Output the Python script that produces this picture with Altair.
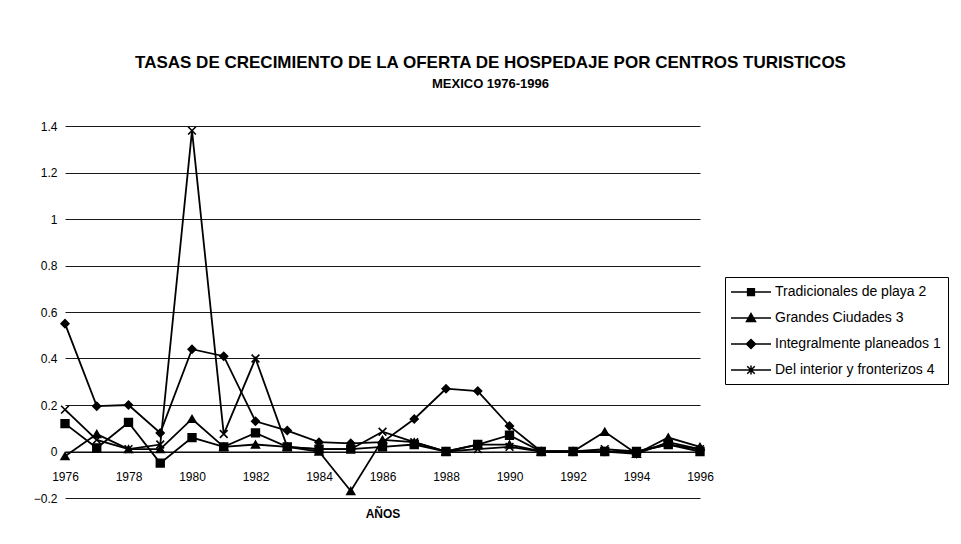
import altair as alt
import pandas as pd

years = [1976, 1977, 1978, 1979, 1980, 1981, 1982, 1983, 1984, 1985, 1986,
         1987, 1988, 1989, 1990, 1991, 1992, 1993, 1994, 1995, 1996]

series_names = [
    "Tradicionales de playa 2",
    "Grandes Ciudades 3",
    "Integralmente planeados 1",
    "Del interior y fronterizos 4",
]

tradicionales = [0.12, 0.015, 0.125, -0.05, 0.06, 0.02, 0.08, 0.02, 0.01, 0.01, 0.02,
                 0.03, 0.0, 0.03, 0.07, 0.0, 0.0, 0.0, 0.0, 0.03, 0.0]
grandes = [-0.02, 0.075, 0.01, 0.01, 0.14, 0.02, 0.03, 0.02, 0.0, -0.17, 0.05,
           0.04, 0.0, 0.03, 0.03, 0.0, 0.0, 0.085, -0.01, 0.06, 0.02]
integralmente = [0.55, 0.195, 0.2, 0.08, 0.44, 0.41, 0.13, 0.09, 0.04, 0.035, 0.04,
                 0.14, 0.27, 0.26, 0.11, 0.0, 0.0, 0.0, -0.01, 0.04, 0.01]
interior = [0.18, 0.05, 0.01, 0.03, 1.38, 0.075, 0.40, 0.02, 0.01, 0.01, 0.085,
            0.04, 0.0, 0.01, 0.02, 0.0, 0.0, 0.01, 0.0, 0.03, 0.01]

x_ticks = [1976, 1978, 1980, 1982, 1984, 1986, 1988, 1990, 1992, 1994, 1996]
y_ticks = [-0.2, 0, 0.2, 0.4, 0.6, 0.8, 1.0, 1.2, 1.4]

title_line1 = "TASAS DE CRECIMIENTO DE LA OFERTA DE HOSPEDAJE POR CENTROS TURISTICOS"
title_line2 = "MEXICO 1976-1996"

rows = []
for name, vals in zip(series_names, [tradicionales, grandes, integralmente, interior]):
    for yr, v in zip(years, vals):
        rows.append({"year": yr, "value": v, "series": name})
df = pd.DataFrame(rows)

W, H = 635, 372
FONT = "Liberation Sans"

marker_shapes = ["square", "triangle-up", "diamond", "M-1,-1L1,1M-1,1L1,-1"]
legend_shapes = [
    "M-2.67,0H2.67M-0.45,-0.45H0.45V0.45H-0.45Z",
    "M-2.67,0H2.67M0,-0.6L0.6,0.45H-0.6Z",
    "M-2.67,0H2.67M0,-0.6L0.6,0L0,0.6L-0.6,0Z",
    "M-2.67,0H2.67M-0.5,-0.5L0.5,0.5M-0.5,0.5L0.5,-0.5M0,-0.6V0.6",
]

x_enc = alt.X(
    "year:Q",
    scale=alt.Scale(domain=[1976, 1996], nice=False, zero=False),
    axis=alt.Axis(values=x_ticks, format="d", title="AÑOS", offset=-H / 8,
                  grid=False, ticks=False, labelPadding=20, domain=True,
                  domainColor="black", domainWidth=1.2,
                  labelFont=FONT, labelFontSize=12, labelColor="black",
                  labelOverlap=False, labelBound=False, labelFlush=False,
                  titleFont=FONT, titleFontSize=12, titleFontWeight="bold",
                  titleColor="black", titlePadding=26),
)
y_enc = alt.Y(
    "value:Q",
    scale=alt.Scale(domain=[-0.2, 1.4], nice=False, zero=False),
    axis=alt.Axis(values=y_ticks, format="~g", title=None, grid=True,
                  gridColor="#1a1a1a", gridWidth=1, domain=False, ticks=False,
                  labelPadding=8, labelFont=FONT, labelFontSize=12,
                  labelColor="black"),
)

base = alt.Chart(df)

lines = base.mark_line(color="black", strokeWidth=1.8).encode(
    x=x_enc, y=y_enc, detail="series:N"
)

points = base.mark_point(filled=True, fill="black", stroke="black", size=60,
                         strokeWidth=1.6, opacity=1).encode(
    x=x_enc, y=y_enc,
    shape=alt.Shape("series:N",
                    scale=alt.Scale(domain=series_names, range=marker_shapes),
                    legend=None),
)

common_legend = dict(title=None, orient="none", legendX=660, legendY=151,
                     labelFont=FONT, labelFontSize=14, labelLimit=300,
                     padding=6.5, rowPadding=10,
                     symbolSize=225, labelOffset=15.5, symbolOffset=11)

# legend A: strokes (connecting line + marker outline) and labels, with the box
legend_stroke = base.transform_filter("false").mark_point(
    filled=False, color="black", size=225, strokeWidth=1.6, opacity=1
).encode(
    x=x_enc, y=y_enc,
    shape=alt.Shape("series_a:N",
                    scale=alt.Scale(domain=series_names, range=legend_shapes),
                    legend=alt.Legend(labelColor="black", strokeColor="black",
                                      **common_legend)),
)

# legend B: marker fills at the same place, no label text
legend_fill = base.transform_filter("false").mark_point(
    filled=True, color="black", size=225, opacity=1
).encode(
    x=x_enc, y=y_enc,
    shape=alt.Shape("series_b:N",
                    scale=alt.Scale(domain=series_names, range=legend_shapes),
                    legend=alt.Legend(labelExpr="''", **common_legend)),
)

chart = alt.layer(lines, points, legend_stroke, legend_fill).transform_calculate(
    series_a="datum.series", series_b="datum.series"
).resolve_scale(
    shape="independent"
).properties(
    width=W, height=H,
    title=alt.TitleParams(title_line1, subtitle=title_line2, anchor="middle",
                          dx=108, fontSize=17, font=FONT, fontWeight="bold",
                          offset=28, color="black",
                          subtitleFont=FONT, subtitleFontSize=13,
                          subtitleFontWeight="bold", subtitleColor="black",
                          subtitlePadding=6),
    autosize=alt.AutoSizeParams(type="none"),
    padding={"left": 57, "top": 118, "right": 253, "bottom": 30},
).configure_view(stroke=None)

chart.save("out.html", embed_options={"renderer": "svg", "actions": False})
